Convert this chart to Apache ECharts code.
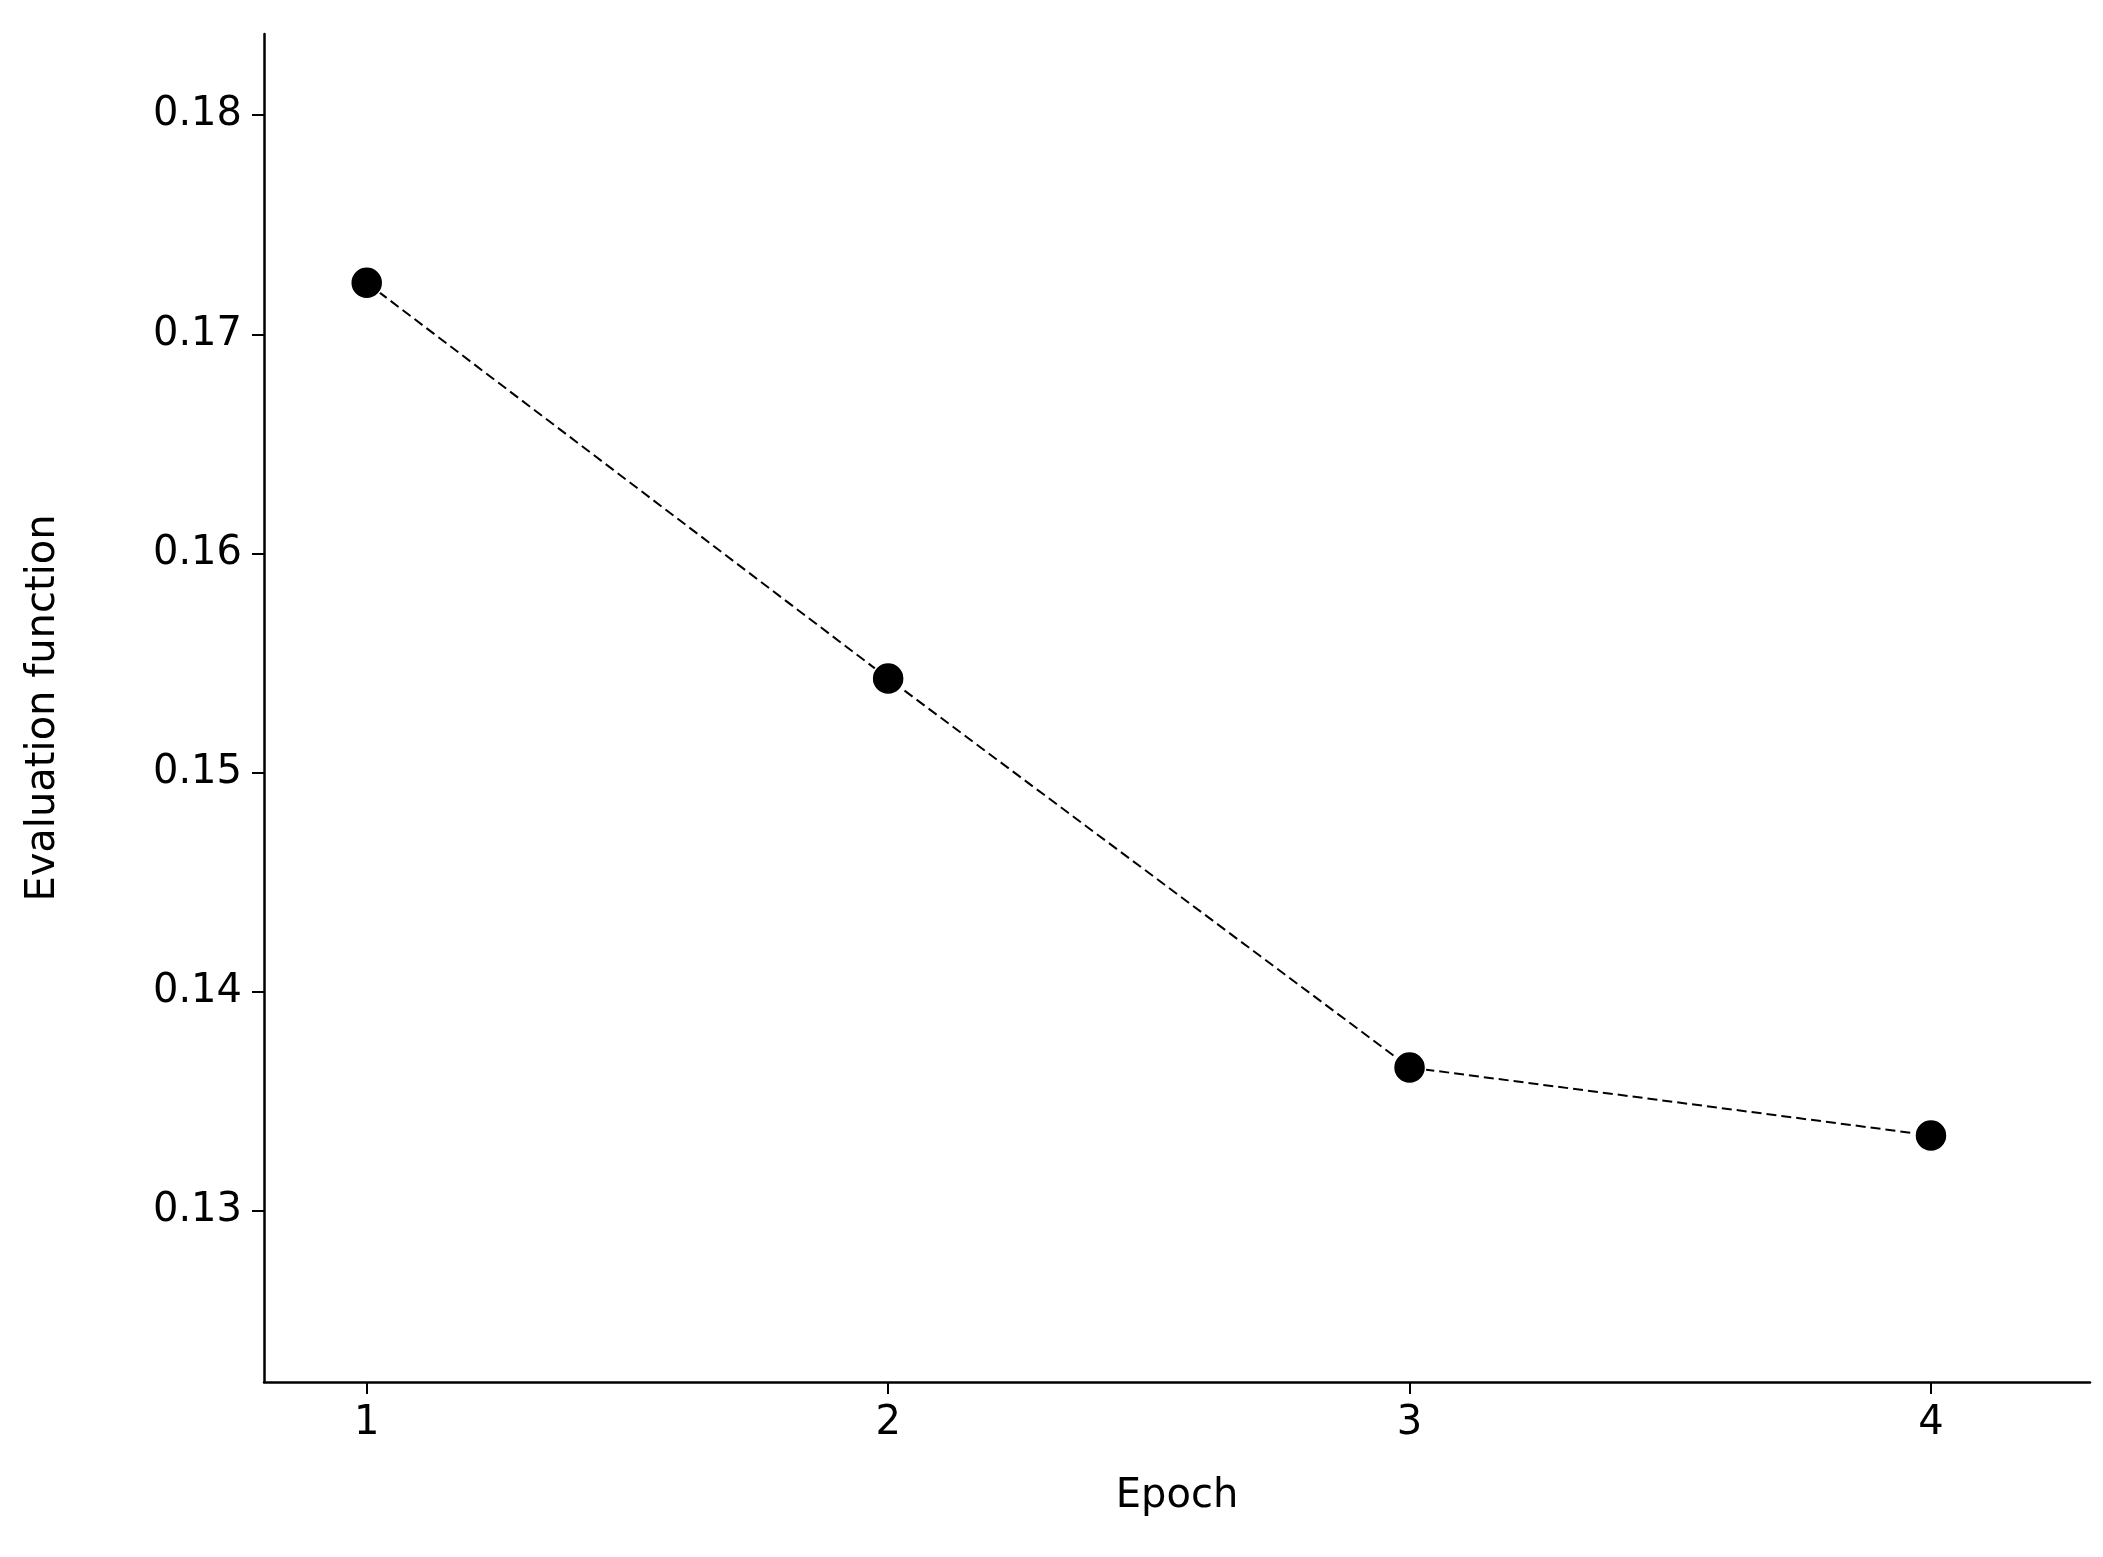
<!DOCTYPE html>
<html>
<head>
<meta charset="UTF-8">
<script src="https://cdn.jsdelivr.net/npm/echarts@6/dist/echarts.min.js"></script>
<style>
html, body { margin: 0; padding: 0; background: #fff; }
#chart { width: 2103px; height: 1557px; }
</style>
</head>
<body>
<div id="chart"></div>
<script>
var epochs = [1, 2, 3, 4];
var evalValues = [0.17235, 0.1543, 0.13655, 0.13345];
var xTicks = [1, 2, 3, 4];
var yTicks = [0.13, 0.14, 0.15, 0.16, 0.17, 0.18];

var chart = echarts.init(document.getElementById('chart'));
var font = 'DejaVu Sans';
chart.setOption({
    animation: false,
    grid: { left: 264, right: 13, top: 34, bottom: 175 },
    xAxis: {
        type: 'value', min: 0.803, max: 4.305,
        name: 'Epoch', nameLocation: 'middle', nameGap: 95,
        nameTextStyle: { fontFamily: font, fontSize: 40, color: '#000' },
        axisLine: { lineStyle: { color: '#000', width: 2.5 } },
        axisTick: { customValues: xTicks, length: 12, lineStyle: { color: '#000', width: 2 } },
        axisLabel: { customValues: xTicks, fontFamily: font, fontSize: 40, color: '#000', margin: 22 },
        splitLine: { show: false }
    },
    yAxis: {
        type: 'value', min: 0.1222, max: 0.1837,
        name: 'Evaluation function', nameLocation: 'middle', nameGap: 200,
        nameTextStyle: { fontFamily: font, fontSize: 40, color: '#000' },
        axisLine: { show: true, lineStyle: { color: '#000', width: 2.5 } },
        axisTick: { show: true, customValues: yTicks, length: 12, lineStyle: { color: '#000', width: 2 } },
        axisLabel: { customValues: yTicks, fontFamily: font, fontSize: 40, color: '#000', margin: 22,
            formatter: function (v) { return v.toFixed(2); } },
        splitLine: { show: false }
    },
    series: [{
        type: 'line',
        data: epochs.map(function (e, i) { return [e, evalValues[i]]; }),
        symbol: 'circle', symbolSize: 32,
        itemStyle: { color: '#000', borderColor: '#fff', borderWidth: 1.5 },
        lineStyle: { color: '#000', width: 2, type: [10, 5] }
    }]
});
</script>
</body>
</html>
